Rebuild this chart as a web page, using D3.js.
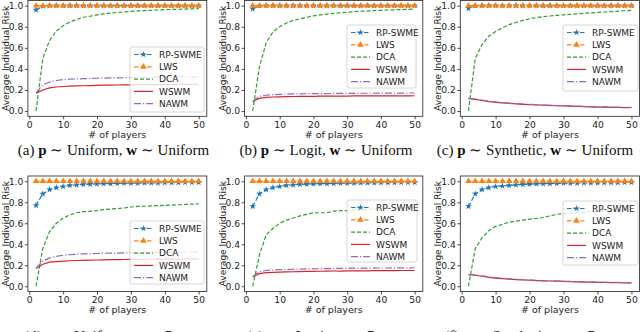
<!DOCTYPE html>
<html><head><meta charset="utf-8">
<script src="https://cdn.jsdelivr.net/npm/d3@7"></script>
<style>
html,body{margin:0;padding:0;background:#fff;}
svg{display:block;}
text{font-family:"DejaVu Sans",sans-serif;}
.cap{font-family:"Liberation Serif","Times New Roman",serif;}
</style></head>
<body>
<script>
// ---------- data ----------
const players = [2,4,6,8,10,12,14,16,18,20,22,24,26,28,30,32,34,36,38,40,42,44,46,48,50];
const seriesNames = ["RP-SWME","LWS","DCA","WSWM","NAWM"];
const xTicks = [0,10,20,30,40,50];
const yTicks = [0.0,0.2,0.4,0.6,0.8,1.0];
const captionLetters = ["(a)","(b)","(c)","(d)","(e)","(f)"];
const pDist = ["Uniform","Logit","Synthetic","Uniform","Logit","Synthetic"];
const wDist = ["Uniform","Uniform","Uniform","Pareto","Pareto","Pareto"];

const rpSwme = [
 [0.96,0.995,1,1,1,1,1,1,1,1,1,1,1,1,1,1,1,1,1,1,1,1,1,1,1],
 [0.97,0.998,1,1,1,1,1,1,1,1,1,1,1,1,1,1,1,1,1,1,1,1,1,1,1],
 [0.975,0.998,1,1,1,1,1,1,1,1,1,1,1,1,1,1,1,1,1,1,1,1,1,1,1],
 [0.77,0.88,0.92,0.94,0.95,0.96,0.965,0.97,0.972,0.975,0.977,0.978,0.98,0.981,0.982,0.983,0.984,0.985,0.985,0.986,0.987,0.987,0.988,0.988,0.989],
 [0.76,0.88,0.92,0.94,0.95,0.96,0.965,0.97,0.972,0.975,0.977,0.978,0.98,0.981,0.982,0.983,0.984,0.985,0.985,0.986,0.987,0.987,0.988,0.988,0.989],
 [0.76,0.88,0.92,0.94,0.95,0.955,0.96,0.965,0.97,0.972,0.975,0.977,0.978,0.98,0.981,0.982,0.983,0.984,0.985,0.985,0.986,0.987,0.987,0.988,0.988]
];
const lws = [
 [1,1,1,1,1,1,1,1,1,1,1,1,1,1,1,1,1,1,1,1,1,1,1,1,1],
 [1,1,1,1,1,1,1,1,1,1,1,1,1,1,1,1,1,1,1,1,1,1,1,1,1],
 [1,1,1,1,1,1,1,1,1,1,1,1,1,1,1,1,1,1,1,1,1,1,1,1,1],
 [1,1,1,1,1,1,1,1,1,1,1,1,1,1,1,1,1,1,1,1,1,1,1,1,1],
 [1,1,1,1,1,1,1,1,1,1,1,1,1,1,1,1,1,1,1,1,1,1,1,1,1],
 [1,1,1,1,1,1,1,1,1,1,1,1,1,1,1,1,1,1,1,1,1,1,1,1,1]
];
const dca = [
 [0.0,0.50,0.67,0.76,0.81,0.845,0.87,0.89,0.90,0.912,0.922,0.93,0.936,0.941,0.946,0.95,0.953,0.956,0.959,0.962,0.964,0.966,0.968,0.97,0.972],
 [0.0,0.42,0.65,0.75,0.80,0.835,0.86,0.875,0.89,0.903,0.912,0.92,0.927,0.933,0.938,0.943,0.947,0.95,0.953,0.956,0.959,0.961,0.963,0.965,0.967],
 [0.0,0.50,0.63,0.71,0.755,0.79,0.82,0.84,0.86,0.875,0.887,0.895,0.902,0.908,0.913,0.918,0.923,0.928,0.932,0.936,0.94,0.944,0.948,0.952,0.955],
 [0.0,0.36,0.52,0.60,0.65,0.68,0.70,0.71,0.715,0.72,0.73,0.735,0.74,0.745,0.755,0.76,0.762,0.765,0.768,0.77,0.773,0.776,0.779,0.782,0.785],
 [0.0,0.30,0.49,0.55,0.60,0.63,0.65,0.67,0.685,0.70,0.70,0.70,0.715,0.72,0.72,0.725,0.73,0.733,0.736,0.739,0.742,0.745,0.748,0.75,0.752],
 [0.0,0.36,0.46,0.53,0.57,0.59,0.61,0.62,0.63,0.64,0.645,0.655,0.67,0.685,0.69,0.695,0.70,0.705,0.71,0.713,0.716,0.719,0.722,0.725,0.728]
];
const wswm = [
 [0.17,0.20,0.22,0.228,0.233,0.236,0.238,0.24,0.242,0.244,0.245,0.246,0.247,0.248,0.249,0.25,0.25,0.251,0.251,0.252,0.252,0.253,0.253,0.253,0.254],
 [0.09,0.12,0.13,0.133,0.135,0.137,0.138,0.139,0.14,0.14,0.141,0.141,0.142,0.142,0.142,0.143,0.143,0.143,0.143,0.144,0.144,0.144,0.144,0.144,0.145],
 [0.12,0.11,0.10,0.09,0.082,0.077,0.072,0.068,0.064,0.061,0.058,0.055,0.053,0.05,0.048,0.046,0.044,0.042,0.04,0.038,0.037,0.035,0.034,0.033,0.032],
 [0.17,0.21,0.23,0.235,0.24,0.243,0.245,0.247,0.249,0.25,0.252,0.253,0.254,0.255,0.256,0.256,0.257,0.257,0.258,0.258,0.259,0.259,0.26,0.26,0.26],
 [0.09,0.12,0.13,0.133,0.135,0.137,0.138,0.14,0.141,0.142,0.143,0.144,0.145,0.145,0.146,0.146,0.147,0.147,0.148,0.148,0.149,0.149,0.15,0.15,0.15],
 [0.11,0.105,0.095,0.085,0.078,0.072,0.067,0.063,0.06,0.057,0.054,0.052,0.05,0.048,0.046,0.044,0.042,0.04,0.039,0.037,0.036,0.035,0.034,0.033,0.032]
];
const nawm = [
 [0.17,0.25,0.275,0.29,0.298,0.302,0.305,0.307,0.309,0.311,0.313,0.314,0.315,0.316,0.318,0.319,0.32,0.321,0.322,0.322,0.323,0.323,0.324,0.324,0.325],
 [0.09,0.14,0.15,0.155,0.158,0.16,0.162,0.163,0.164,0.165,0.166,0.166,0.167,0.167,0.168,0.168,0.169,0.169,0.169,0.17,0.17,0.17,0.17,0.171,0.171],
 [0.12,0.115,0.105,0.095,0.087,0.08,0.075,0.071,0.067,0.063,0.06,0.057,0.055,0.052,0.05,0.048,0.046,0.044,0.042,0.04,0.039,0.037,0.036,0.035,0.034],
 [0.17,0.24,0.27,0.285,0.295,0.3,0.305,0.308,0.31,0.312,0.314,0.315,0.316,0.318,0.32,0.32,0.321,0.322,0.323,0.323,0.324,0.324,0.325,0.325,0.325],
 [0.09,0.14,0.15,0.155,0.158,0.16,0.162,0.164,0.165,0.166,0.167,0.168,0.169,0.17,0.171,0.172,0.172,0.173,0.173,0.174,0.174,0.175,0.175,0.175,0.176],
 [0.11,0.11,0.1,0.09,0.082,0.076,0.071,0.067,0.063,0.06,0.057,0.054,0.052,0.05,0.048,0.046,0.044,0.042,0.041,0.039,0.038,0.037,0.036,0.035,0.034]
];
const allSeries = [rpSwme, lws, dca, wswm, nawm];

// ---------- layout & style ----------
const W = 640, H = 332;
const colors = ["#1f77b4","#ff7f0e","#2ca02c","#d62728","#9467bd"];
const dashes = ["4.5,2","4.5,2","4,2","none","7,2,1.2,2"];
const panelX = [[27.9,206.8],[244.6,422.8],[460.3,639.6]];
const panelY = [[0.4,116.3],[176.0,291.5]];
const captionCX = [113.5,326,535];
// legend boxes: [x, y, w, h]
const legendBoxes = [
  [130,47,74,65],[347,25,69,63],[563,25,75,66],
  [130,221,74,63],[347,200,70,62],[563,201,75,64]
];

const svg = d3.select("body").append("svg").attr("width",W).attr("height",H);

const star = d3.symbol().type(d3.symbolStar).size(14)();
const tri = d3.symbol().type(d3.symbolTriangle).size(18)();

for (let p = 0; p < 6; p++) {
  const col = p % 3, row = Math.floor(p / 3);
  const [x0,x1] = panelX[col], [y0,y1] = panelY[row];
  const x = d3.scaleLinear().domain([-0.4,52.4]).range([x0,x1]);
  const y = d3.scaleLinear().domain([-0.05,1.05]).range([y1,y0]);
  const g = svg.append("g");

  const clipId = "clip"+p;
  g.append("clipPath").attr("id",clipId).append("rect")
    .attr("x",x0).attr("y",y0-4).attr("width",x1-x0).attr("height",y1-y0+8);

  // axes
  const xa = g.append("g").attr("transform",`translate(0,${y1})`)
    .call(d3.axisBottom(x).tickValues(xTicks).tickSize(3).tickPadding(2).tickFormat(d3.format("d")));
  const ya = g.append("g").attr("transform",`translate(${x0},0)`)
    .call(d3.axisLeft(y).tickValues(yTicks).tickSize(3).tickPadding(1.5).tickFormat(d3.format(".1f")));
  [xa,ya].forEach(a=>{
    a.select(".domain").remove();
    a.selectAll("line").attr("stroke","#222").attr("stroke-width",0.8);
    a.selectAll("text").attr("font-size",9.2).attr("fill","#222").attr("font-family","DejaVu Sans");
  });

  g.append("text").attr("x",(x0+x1)/2).attr("y",y1+21.5).attr("text-anchor","middle")
    .attr("font-size",9.5).attr("fill","#222").text("# of players");
  g.append("text").attr("transform",`translate(${x0-19},${(y0+y1)/2}) rotate(-90)`)
    .attr("text-anchor","middle").attr("font-size",9).attr("fill","#222").text("Average Individual Risk");

  // lines
  const lg = g.append("g").attr("clip-path",`url(#${clipId})`);
  const drawOrder = [2,3,4,0,1];
  drawOrder.forEach(s=>{
    const vals = allSeries[s][p];
    const line = d3.line().x((d,i)=>x(players[i])).y(d=>y(d));
    lg.append("path").datum(vals).attr("d",line).attr("fill","none")
      .attr("stroke",colors[s]).attr("stroke-width",1.2)
      .attr("stroke-dasharray",dashes[s]);
    if (s===0 || s===1) {
      lg.selectAll(null).data(vals).enter().append("path")
        .attr("d", s===0 ? star : tri)
        .attr("transform",(d,i)=>`translate(${x(players[i])},${y(d)})`)
        .attr("fill",colors[s]);
    }
  });

  // frame
  g.append("rect").attr("x",x0).attr("y",y0).attr("width",x1-x0).attr("height",y1-y0)
    .attr("fill","none").attr("stroke","#222").attr("stroke-width",0.8);

  // legend
  const [lx,ly,lw,lh] = legendBoxes[p];
  const leg = g.append("g");
  leg.append("rect").attr("x",lx).attr("y",ly).attr("width",lw).attr("height",lh)
    .attr("rx",2).attr("fill","#fff").attr("fill-opacity",0.8)
    .attr("stroke","#ccc").attr("stroke-width",0.8);
  seriesNames.forEach((name,s)=>{
    const ey = ly + 7.5 + s*12.3;
    leg.append("line").attr("x1",lx+4).attr("x2",lx+23).attr("y1",ey).attr("y2",ey)
      .attr("stroke",colors[s]).attr("stroke-width",1.2).attr("stroke-dasharray",dashes[s]);
    if (s<2) leg.append("path").attr("d", s===0?star:tri)
      .attr("transform",`translate(${lx+13.5},${ey})`).attr("fill",colors[s]);
    leg.append("text").attr("x",lx+29).attr("y",ey).attr("dy","0.35em")
      .attr("font-size",9).attr("fill","#222").text(name);
  });

  // caption
  const cap = svg.append("text").attr("class","cap")
    .attr("x",captionCX[col]).attr("y", row===0 ? 154.5 : 341)
    .attr("text-anchor","middle").attr("font-size",15).attr("fill","#111");
  cap.append("tspan").text(captionLetters[p]+" ");
  cap.append("tspan").attr("font-weight","bold").text("p");
  cap.append("tspan").text(" \u223C " + pDist[p] + ", ");
  cap.append("tspan").attr("font-weight","bold").text("w");
  cap.append("tspan").text(" \u223C " + wDist[p]);
}
</script>
</body></html>
